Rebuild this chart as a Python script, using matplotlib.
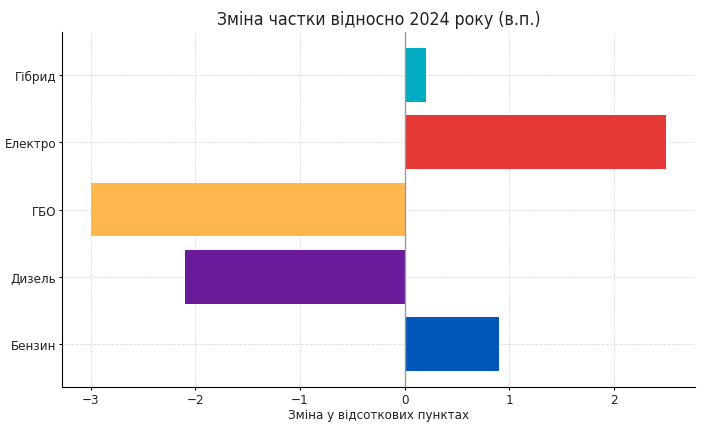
import matplotlib.pyplot as plt

plt.rcParams['font.stretch'] = 'condensed'

categories = ['Бензин', 'Дизель', 'ГБО', 'Електро', 'Гібрид']
changes = [0.9, -2.1, -3.0, 2.5, 0.2]
colors = ['#0057B8', '#6A1B9A', '#FFB74D', '#E53935', '#00ACC1']

fig = plt.figure(figsize=(7.19, 4.35), dpi=100)
ax = fig.add_axes([0.086, 0.108, 0.881, 0.816])

ax.barh(categories, changes, color=colors, zorder=2)
ax.axvline(0, color='#999999', linewidth=1, zorder=3)

ax.set_title('Зміна частки відносно 2024 року (в.п.)', fontsize=12.7, color='#222222')
ax.set_xlabel('Зміна у відсоткових пунктах', fontsize=9.5, color='#222222', labelpad=2)
ax.tick_params(labelsize=9.5, labelcolor='#222222', length=2.5, pad=1.5)
ax.grid(True, linestyle='--', linewidth=0.6, color='#dddddd', zorder=0)
ax.spines['top'].set_visible(False)
ax.spines['right'].set_visible(False)

fig.savefig('out.png', dpi=100)
